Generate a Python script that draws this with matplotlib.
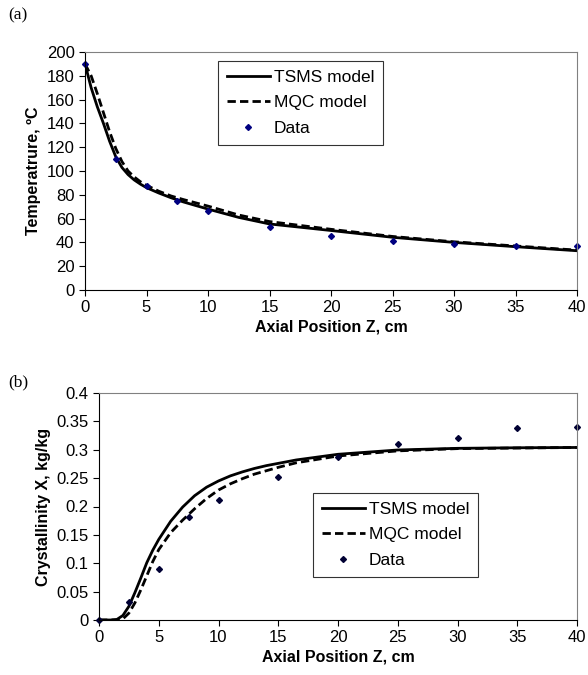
import numpy as np
import matplotlib
matplotlib.use('Agg')
import matplotlib.pyplot as plt

plt.rcParams['font.family'] = ['Liberation Sans', 'DejaVu Sans']

# panel (a): temperature along the axis
za_model = [0, 0.5, 1, 1.5, 2, 2.5, 3, 3.5, 4, 4.5, 5, 6, 7, 8, 10, 12.5, 15, 20, 25, 30, 35, 40]
temp_tsms = [190, 170, 154, 140, 125, 112, 103, 97, 92.5, 89, 86, 81.5, 77.5, 74, 68, 61, 55.5, 50, 44.3, 40, 36.4, 33]
temp_mqc = [190, 180, 165, 149, 133, 119, 108, 100, 95, 91, 88, 83, 79, 76, 70.5, 63, 57.5, 51, 45, 40.5, 37, 33.5]
za_data = [0, 2.5, 5, 7.5, 10, 15, 20, 25, 30, 35, 40]
temp_data = [190, 110, 87.5, 75, 66, 53, 45.5, 41.5, 39, 37, 37]

# panel (b): crystallinity along the axis
zb_model = [0, 0.5, 1, 1.5, 2, 2.5, 3, 3.5, 4, 4.5, 5, 6, 7, 8, 9, 10, 11, 12, 13, 14, 15,
            16.5, 20, 25, 30, 35, 40]
x_tsms = [0, 0, 0, 0.001, 0.008, 0.024, 0.048, 0.074, 0.101, 0.123, 0.142, 0.174, 0.199, 0.219,
          0.234, 0.245, 0.254, 0.261, 0.267, 0.272, 0.276, 0.282, 0.292, 0.2996, 0.3025, 0.3035, 0.304]
x_mqc = [0, 0, 0, 0, 0.002, 0.012, 0.030, 0.053, 0.078, 0.103, 0.124, 0.154, 0.176, 0.196,
         0.214, 0.229, 0.240, 0.249, 0.257, 0.263, 0.269, 0.277, 0.289, 0.298, 0.302, 0.303, 0.304]
zb_data = [0, 2.5, 5, 7.5, 10, 15, 20, 25, 30, 35, 40]
x_data = [0, 0.031, 0.09, 0.181, 0.211, 0.252, 0.288, 0.311, 0.321, 0.338, 0.34]

W, H = 588, 675
fig = plt.figure(figsize=(W / 100, H / 100), dpi=100)


def style(ax):
    for s in ['top', 'right']:
        ax.spines[s].set_color('#808080')
    for s in ['left', 'bottom']:
        ax.spines[s].set_color('black')
    ax.tick_params(direction='out', length=4, labelsize=12, top=False, right=False)


def add_legend(ax, x0, y0):
    leg = ax.legend(loc='upper left', bbox_to_anchor=(x0, y0), borderaxespad=0,
                    fontsize=12.5, frameon=True, fancybox=False, edgecolor='black',
                    handlelength=2.5, borderpad=0.5, labelspacing=0.6, handletextpad=0.2)
    leg.get_frame().set_linewidth(0.8)
    return leg


# (a)
ax1 = fig.add_axes([85 / W, 1 - 290 / H, (577 - 85) / W, (290 - 52) / H])
ax1.plot(za_model, temp_tsms, color='black', lw=2.0, label='TSMS model')
ax1.plot(za_model, temp_mqc, color='black', lw=2.0, ls=(0, (3, 1.5)), label='MQC model')
ax1.plot(za_data, temp_data, ls='none', marker='D', ms=3, color='#000080', label='Data', clip_on=False)
ax1.set_xlim(0, 40)
ax1.set_ylim(0, 200)
ax1.set_xticks(np.arange(0, 41, 5))
ax1.set_yticks(np.arange(0, 201, 20))
ax1.set_xlabel('Axial Position Z, cm', fontweight='bold', fontsize=11.5, labelpad=3)
ax1.set_ylabel('Temperatrure, ºC', fontweight='bold', fontsize=11.5, labelpad=4)
style(ax1)
add_legend(ax1, (218 - 85) / 492, (290 - 61) / 238)

# (b)
ax2 = fig.add_axes([99 / W, 1 - 620 / H, (577 - 99) / W, (620 - 393) / H])
ax2.plot(zb_model, x_tsms, color='black', lw=2.0, label='TSMS model')
ax2.plot(zb_model, x_mqc, color='black', lw=2.0, ls=(0, (3, 1.5)), label='MQC model')
ax2.plot(zb_data, x_data, ls='none', marker='D', ms=3, color='#000033', label='Data', clip_on=False)
ax2.set_xlim(0, 40)
ax2.set_ylim(0, 0.4)
ax2.set_xticks(np.arange(0, 41, 5))
ax2.set_yticks(np.arange(0, 0.41, 0.05))
ax2.set_yticklabels(['0', '0.05', '0.1', '0.15', '0.2', '0.25', '0.3', '0.35', '0.4'])
ax2.set_xlabel('Axial Position Z, cm', fontweight='bold', fontsize=11.5, labelpad=3)
ax2.set_ylabel('Crystallinity X, kg/kg', fontweight='bold', fontsize=11.5, labelpad=4)
style(ax2)
add_legend(ax2, (313 - 99) / 478, (620 - 493) / 227)

fig.text(8 / W, 1 - 15 / H, '(a)', family='Liberation Serif', fontsize=12.5, va='center')
fig.text(8 / W, 1 - 382 / H, '(b)', family='Liberation Serif', fontsize=12.5, va='center')

fig.savefig('out.png', dpi=100)
